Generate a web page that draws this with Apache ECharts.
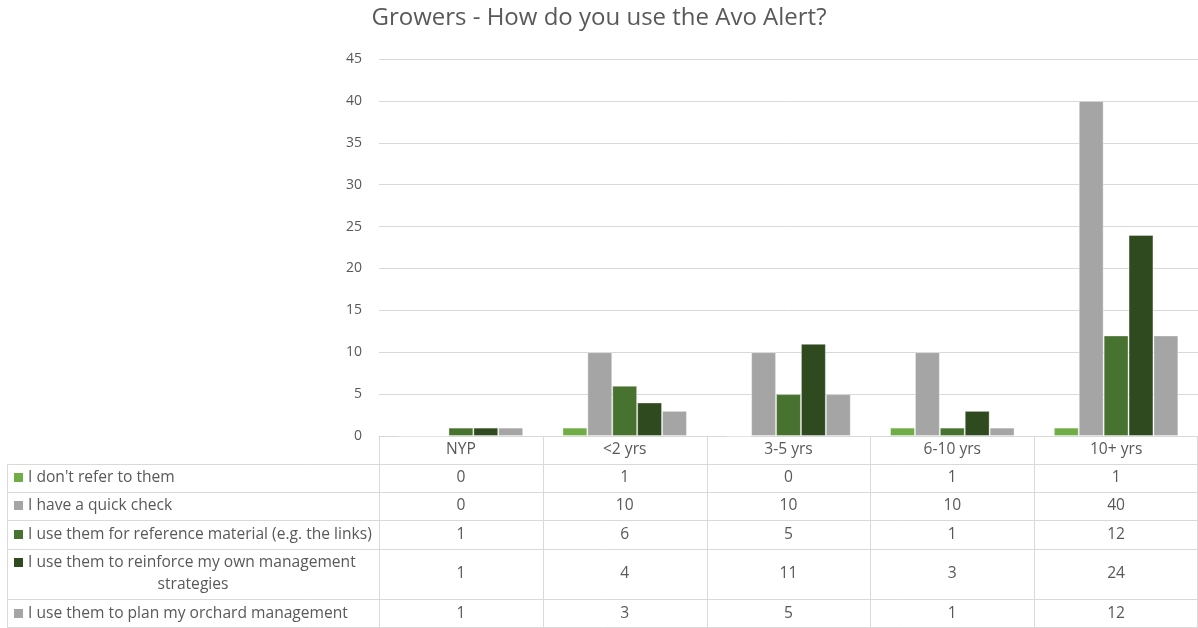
<!DOCTYPE html>
<html>
<head>
<meta charset="utf-8">
<script src="https://cdn.jsdelivr.net/npm/echarts@6/dist/echarts.min.js"></script>
<style>html,body{margin:0;padding:0;background:#fff}#c{width:1198px;height:628px}</style>
</head>
<body>
<div id="c"></div>
<script>
const categories = ['NYP', '<2 yrs', '3-5 yrs', '6-10 yrs', '10+ yrs'];
const seriesNames = [
  "I don't refer to them",
  'I have a quick check',
  'I use them for reference material (e.g. the links)',
  'I use them to reinforce my own management strategies',
  'I use them to plan my orchard management'
];
const dontRefer = [0, 1, 0, 1, 1];
const quickCheck = [0, 10, 10, 10, 40];
const referenceMaterial = [1, 6, 5, 1, 12];
const reinforce = [1, 4, 11, 3, 24];
const planOrchard = [1, 3, 5, 1, 12];
const yTicks = [0, 5, 10, 15, 20, 25, 30, 35, 40, 45];

const allValues = [dontRefer, quickCheck, referenceMaterial, reinforce, planOrchard];
const colors = ['#70AD47', '#A5A5A5', '#48722F', '#2E4A1E', '#A5A5A5'];
const txt = '#595959';
const font = '"Open Sans", Lato, sans-serif';

const chart = echarts.init(document.getElementById('c'));
const option = {
  animation: false,
  backgroundColor: '#fff',
  title: {
    text: 'Growers - How do you use the Avo Alert?',
    left: 'center', top: 1,
    textStyle: { color: txt, fontSize: 24, fontWeight: 'normal', fontFamily: font }
  },
  grid: { left: 379, right: 0, top: 59, bottom: 192, containLabel: false },
  xAxis: {
    type: 'category', data: categories,
    axisLine: { lineStyle: { color: '#d9d9d9' } },
    axisTick: { show: false }, axisLabel: { show: false }
  },
  yAxis: {
    type: 'value', min: yTicks[0], max: yTicks[yTicks.length - 1], interval: 5,
    axisLine: { show: false }, axisTick: { show: false },
    axisLabel: { color: txt, fontSize: 14, fontFamily: font, margin: 17 },
    splitLine: { lineStyle: { color: '#d9d9d9' } }
  },
  series: allValues.map((vals, i) => ({
    name: seriesNames[i], type: 'bar', data: vals,
    barGap: '0%', barCategoryGap: '24%',
    itemStyle: { color: colors[i], borderColor: 'rgba(255,255,255,0.35)', borderWidth: 1 }
  }))
};
chart.setOption(option);

// Data table built from the same arrays, aligned to the category axis
const c0 = chart.convertToPixel({ xAxisIndex: 0 }, categories[0]);
const c1 = chart.convertToPixel({ xAxisIndex: 0 }, categories[1]);
const band = c1 - c0;
const yBase = chart.convertToPixel({ yAxisIndex: 0 }, 0);
const left0 = c0 - band / 2;
const rightEdge = left0 + band * categories.length;
const tableLeft = 7;
const rowBounds = [yBase, yBase + 28, yBase + 56, yBase + 84, yBase + 113, yBase + 163, 628];
const line = '#d9d9d9';
const g = [];
function hline(y, x1, x2) {
  g.push({ type: 'line', silent: true, shape: { x1: x1, y1: Math.round(y) + 0.5, x2: x2, y2: Math.round(y) + 0.5 }, style: { stroke: line, lineWidth: 1 } });
}
function vline(x, y1, y2) {
  g.push({ type: 'line', silent: true, shape: { x1: Math.round(x) + 0.5, y1: y1, x2: Math.round(x) + 0.5, y2: y2 }, style: { stroke: line, lineWidth: 1 } });
}
function text(s, x, y, align) {
  g.push({ type: 'text', silent: true, x: x, y: y, style: { text: s, fill: txt, font: '15.6px ' + font, textAlign: align, textVerticalAlign: 'middle' } });
}
function key(y, color) {
  g.push({ type: 'rect', silent: true, shape: { x: 14, y: Math.round(y) - 5, width: 9, height: 9 }, style: { fill: color } });
}
for (let r = 1; r < rowBounds.length - 1; r++) hline(rowBounds[r], tableLeft, rightEdge);
hline(627, tableLeft, rightEdge);
for (let i = 0; i <= categories.length; i++) {
  const x = i === categories.length ? rightEdge - 1 : left0 + band * i;
  vline(x, rowBounds[0], 628);
}
vline(tableLeft, rowBounds[1], 628);
categories.forEach((cat, i) => {
  const cx = chart.convertToPixel({ xAxisIndex: 0 }, cat);
  text(cat, cx, (rowBounds[0] + rowBounds[1]) / 2, 'center');
});
allValues.forEach((vals, r) => {
  const yc = (rowBounds[r + 1] + rowBounds[r + 2]) / 2;
  if (r === 3) {
    key(yc - 11, colors[r]);
    text('I use them to reinforce my own management', 28, yc - 11, 'left');
    text('strategies', (tableLeft + left0) / 2, yc + 11, 'center');
  } else {
    key(yc, colors[r]);
    text(seriesNames[r], 28, yc, 'left');
  }
  vals.forEach((v, i) => {
    const cx = chart.convertToPixel({ xAxisIndex: 0 }, categories[i]);
    text(String(v), cx, yc, 'center');
  });
});
chart.setOption({ graphic: g });
</script>
</body>
</html>
